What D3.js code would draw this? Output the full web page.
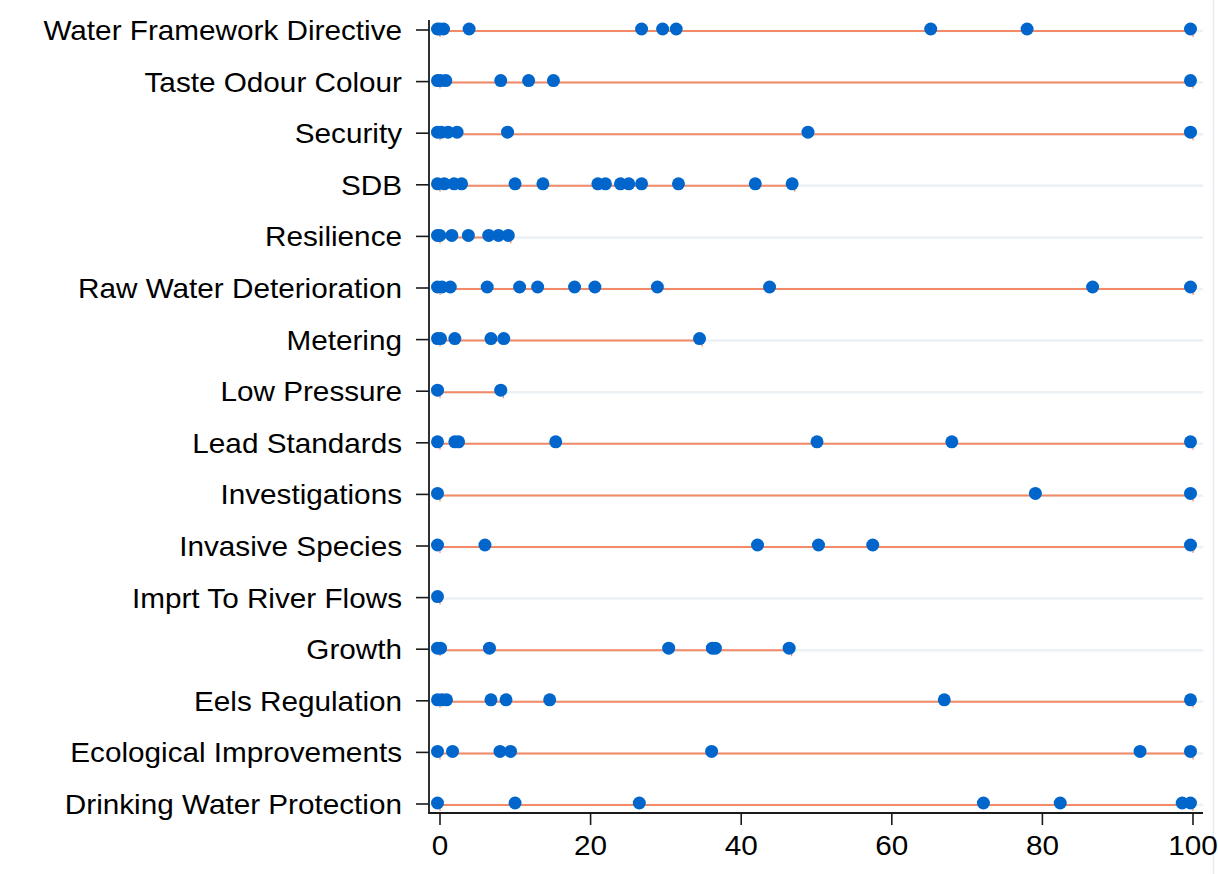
<!DOCTYPE html>
<html>
<head>
<meta charset="utf-8">
<script src="https://cdn.jsdelivr.net/npm/d3@7"></script>
<style>
  body { margin: 0; background: #fff; }
  text { font-family: "Liberation Sans", Arial, sans-serif; fill: #000; }
</style>
</head>
<body>
<svg id="chart" width="1218" height="874"></svg>
<script>
// categories top to bottom
const categories = [
    "Water Framework Directive", "Taste Odour Colour", "Security", "SDB",
    "Resilience", "Raw Water Deterioration", "Metering", "Low Pressure",
    "Lead Standards", "Investigations", "Invasive Species", "Imprt To River Flows",
    "Growth", "Eels Regulation", "Ecological Improvements", "Drinking Water Protection"
];

// percentage values per category (same order)
const scores = [
    [0, 0.3, 0.8, 4.2, 27.1, 29.9, 31.7, 65.5, 78.3, 100],
    [0, 0.4, 1.1, 8.4, 12.1, 15.4, 100],
    [0, 0.5, 1.4, 2.6, 9.3, 49.2, 100],
    [0, 0.9, 2.2, 3.2, 10.3, 14.0, 21.3, 22.3, 24.3, 25.4, 27.1, 32.0, 42.2, 47.1],
    [0, 0.3, 1.9, 4.1, 6.8, 8.1, 9.4],
    [0, 0.6, 1.7, 6.6, 10.9, 13.3, 18.2, 20.9, 29.2, 44.1, 87.0, 100],
    [0, 0.4, 2.3, 7.1, 8.8, 34.8],
    [0, 8.4],
    [0, 2.3, 2.8, 15.7, 50.4, 68.3, 100],
    [0, 79.4, 100],
    [0, 6.3, 42.5, 50.6, 57.8, 100],
    [0],
    [0, 0.4, 6.9, 30.7, 36.5, 36.9, 46.7],
    [0, 0.6, 1.2, 7.1, 9.1, 14.9, 67.3, 100],
    [0, 2.0, 8.3, 9.7, 36.4, 93.3, 100],
    [0, 10.3, 26.8, 72.5, 82.7, 98.9, 100]
];

const xTicks = [0, 20, 40, 60, 80, 100];

var margin = {left: 429, right: 1203, top: 20, bottom: 813};
var svg = d3.select("#chart");

var x = d3.scaleLinear()
    .domain([0, 100])
    .range([440, 1193]);

var y = d3.scalePoint()
    .domain(categories)
    .range([30, 804]);

var rows = categories.map(function (c, i) {
    return {name: c, vals: scores[i], lo: d3.min(scores[i]), hi: d3.max(scores[i])};
});

// faint outer border on the right
svg.append("line")
    .attr("x1", 1213.5).attr("x2", 1213.5)
    .attr("y1", 0).attr("y2", 874)
    .attr("stroke", "#e4ebf1")
    .attr("stroke-width", 1.5);

// light grid line per row
svg.append("g")
    .selectAll("line")
    .data(categories)
    .enter()
    .append("line")
    .attr("x1", margin.left)
    .attr("x2", margin.right)
    .attr("y1", function (d) { return y(d) + 1; })
    .attr("y2", function (d) { return y(d) + 1; })
    .attr("stroke", "#ebf1f4")
    .attr("stroke-width", 2.5);

// range lines min -> max
var ranges = svg.append("g");
ranges.selectAll("line.rng")
    .data(rows.filter(function (r) { return r.hi > r.lo; }))
    .enter()
    .append("line")
    .attr("class", "rng")
    .attr("x1", function (d) { return x(d.lo); })
    .attr("x2", function (d) { return x(d.hi); })
    .attr("y1", function (d) { return y(d.name) + 1; })
    .attr("y2", function (d) { return y(d.name) + 1; })
    .attr("stroke", "#f48a68")
    .attr("stroke-width", 2);

// caps at the range ends
var caps = [];
rows.forEach(function (r) {
    caps.push({name: r.name, v: r.lo});
    if (r.hi > r.lo) caps.push({name: r.name, v: r.hi});
});
ranges.selectAll("line.cap")
    .data(caps)
    .enter()
    .append("line")
    .attr("class", "cap")
    .attr("x1", function (d) { return x(d.v); })
    .attr("x2", function (d) { return x(d.v); })
    .attr("y1", function (d) { return y(d.name) - 5; })
    .attr("y2", function (d) { return y(d.name) + 7; })
    .attr("stroke", "#f48a68")
    .attr("stroke-width", 1.2);

// dots
var pts = [];
rows.forEach(function (r) {
    r.vals.forEach(function (v) { pts.push({name: r.name, v: v}); });
});
svg.append("g")
    .attr("transform", "translate(-2.5,-1)")
    .selectAll("circle")
    .data(pts)
    .enter()
    .append("circle")
    .attr("cx", function (d) { return x(d.v); })
    .attr("cy", function (d) { return y(d.name); })
    .attr("r", 6.5)
    .style("fill", "#0066cc");

// axes lines
svg.append("line")
    .attr("x1", margin.left).attr("x2", margin.left)
    .attr("y1", margin.top).attr("y2", margin.bottom)
    .attr("stroke", "#1a1a1a").attr("stroke-width", 1.8);
svg.append("line")
    .attr("x1", margin.left - 0.9).attr("x2", margin.right)
    .attr("y1", margin.bottom).attr("y2", margin.bottom)
    .attr("stroke", "#1a1a1a").attr("stroke-width", 1.8);

// y ticks + labels
var yt = svg.append("g").selectAll("g")
    .data(categories)
    .enter()
    .append("g");
yt.append("line")
    .attr("x1", 416).attr("x2", margin.left)
    .attr("y1", function (d) { return y(d); })
    .attr("y2", function (d) { return y(d); })
    .attr("stroke", "#1a1a1a").attr("stroke-width", 1.6);
yt.append("text")
    .attr("transform", function (d) { return "translate(402," + (y(d) + 10) + ") scale(1.1,1)"; })
    .attr("text-anchor", "end")
    .style("font-size", "27px")
    .text(function (d) { return d; });

// x ticks + labels
var xt = svg.append("g").selectAll("g")
    .data(xTicks)
    .enter()
    .append("g");
xt.append("line")
    .attr("x1", function (d) { return x(d); })
    .attr("x2", function (d) { return x(d); })
    .attr("y1", margin.bottom).attr("y2", 825)
    .attr("stroke", "#1a1a1a").attr("stroke-width", 1.6);
xt.append("text")
    .attr("transform", function (d) { return "translate(" + x(d) + ",855) scale(1.1,1)"; })
    .attr("text-anchor", "middle")
    .style("font-size", "27px")
    .text(function (d) { return d; });
</script>
</body>
</html>
